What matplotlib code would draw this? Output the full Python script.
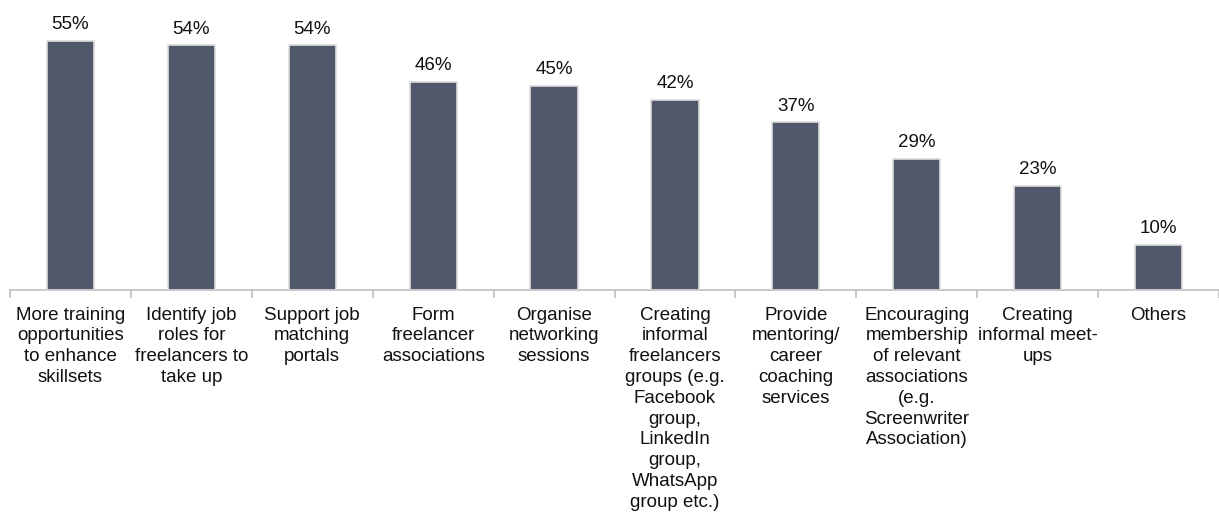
import matplotlib
matplotlib.use("Agg")
import matplotlib.pyplot as plt
import numpy as np

categories = [
    "More training\nopportunities\nto enhance\nskillsets",
    "Identify job\nroles for\nfreelancers to\ntake up",
    "Support job\nmatching\nportals",
    "Form\nfreelancer\nassociations",
    "Organise\nnetworking\nsessions",
    "Creating\ninformal\nfreelancers\ngroups (e.g.\nFacebook\ngroup,\nLinkedIn\ngroup,\nWhatsApp\ngroup etc.)",
    "Provide\nmentoring/\ncareer\ncoaching\nservices",
    "Encouraging\nmembership\nof relevant\nassociations\n(e.g.\nScreenwriter\nAssociation)",
    "Creating\ninformal meet-\nups",
    "Others",
]
values = [55, 54, 54, 46, 45, 42, 37, 29, 23, 10]
value_labels = ["55%", "54%", "54%", "46%", "45%", "42%", "37%", "29%", "23%", "10%"]

plt.rcParams['font.family'] = ['Liberation Sans', 'DejaVu Sans']

fig = plt.figure(figsize=(12.19, 5.16), dpi=100)
ax = fig.add_axes([10/1219, 1 - 290/516, 1 - 10/1219, 290/516])

x = np.arange(len(values))
ax.bar(x, values, width=0.39, color='#515869', edgecolor='#dcdcdc', linewidth=1.2, zorder=3)
for xi, v, lab in zip(x, values, value_labels):
    ax.text(xi, v + 1.7, lab, ha='center', va='bottom', fontsize=13.5, color='#111111')

ax.set_xlim(-0.5, len(values) - 0.5)
ax.set_ylim(0, 64)
ax.set_yticks([])
for s in ['top', 'right', 'left']:
    ax.spines[s].set_visible(False)
ax.spines['bottom'].set_color('#bfbfbf')
ax.spines['bottom'].set_linewidth(1.2)

ax.set_xticks(x)
ax.set_xticklabels(categories, fontsize=13.5, color='#111111', linespacing=1.29, va='top')
ax.tick_params(axis='x', which='major', length=0, pad=12)
ax.set_xticks(np.arange(-0.5, len(values) + 0.5, 1), minor=True)
ax.tick_params(axis='x', which='minor', length=6, color='#bfbfbf', width=1.2)

fig.savefig("out.png", dpi=100)
